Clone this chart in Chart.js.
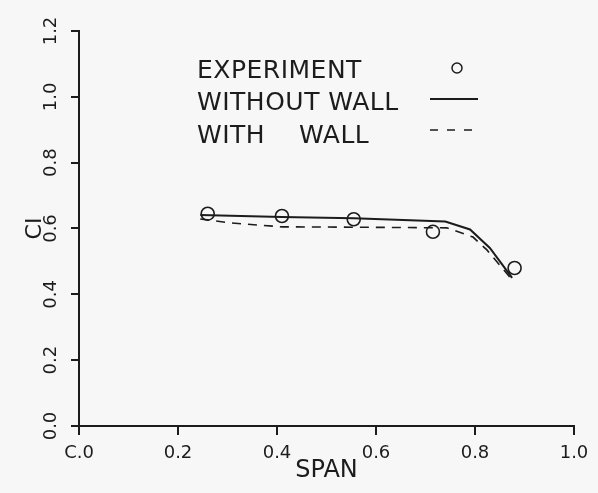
<!DOCTYPE html>
<html>
<head>
<meta charset="utf-8">
<script src="https://cdn.jsdelivr.net/npm/chart.js@4/dist/chart.umd.min.js"></script>
<style>
    html, body { margin: 0; padding: 0; background: #f7f7f7; }
    #wrap { width: 598px; height: 493px; position: relative; }
</style>
</head>
<body>
<div id="wrap"><canvas id="clChart"></canvas></div>
<script>
// tick labels as printed on the plot
const spanTicks = ['C.0', '0.2', '0.4', '0.6', '0.8', '1.0'];
const clTicks = ['0.0', '0.2', '0.4', '0.6', '0.8', '1.0', '1.2'];

// experiment (circles)
const expSpan = [0.26, 0.41, 0.555, 0.715, 0.88];
const expCl = [0.645, 0.638, 0.628, 0.59, 0.48];

// computation without wall (solid)
const noWallSpan = [0.245, 0.41, 0.555, 0.74, 0.79, 0.83, 0.875];
const noWallCl = [0.641, 0.635, 0.631, 0.621, 0.597, 0.541, 0.45];

// computation with wall (dashed)
const wallSpan = [0.245, 0.305, 0.41, 0.555, 0.743, 0.796, 0.824, 0.875];
const wallCl = [0.629, 0.617, 0.605, 0.604, 0.602, 0.574, 0.535, 0.444];

const legendRows = ['EXPERIMENT', 'WITHOUT WALL', 'WITH    WALL'];

const INK = '#1c1c1c';
const X_TICK_LEN = 9;
const Y_TICK_LEN = 8;
const pts = (xs, ys) => xs.map((x, i) => ({ x: x, y: ys[i] }));

// paper colour behind everything
const paperPlugin = {
    id: 'paper',
    beforeDraw(chart) {
        const ctx = chart.ctx;
        ctx.save();
        ctx.fillStyle = '#f7f7f7';
        ctx.fillRect(0, 0, chart.width, chart.height);
        ctx.restore();
    }
};

// outward tick marks, placed by the scales
const tickMarkPlugin = {
    id: 'tickMarks',
    afterDraw(chart) {
        const { ctx, scales: { x, y } } = chart;
        ctx.save();
        ctx.strokeStyle = INK;
        ctx.lineWidth = 2;
        ctx.beginPath();
        x.ticks.forEach(t => {
            const px = Math.round(x.getPixelForValue(t.value));
            ctx.moveTo(px, x.top);
            ctx.lineTo(px, x.top + X_TICK_LEN);
        });
        y.ticks.forEach(t => {
            const py = Math.round(y.getPixelForValue(t.value));
            ctx.moveTo(y.right, py);
            ctx.lineTo(y.right - Y_TICK_LEN, py);
        });
        ctx.stroke();
        ctx.restore();
    }
};

// the hand-laid legend: label on the left, symbol on the right
const keyPlugin = {
    id: 'key',
    afterDraw(chart) {
        const ctx = chart.ctx;
        ctx.save();
        ctx.fillStyle = INK;
        ctx.strokeStyle = INK;
        ctx.font = '25px "DejaVu Sans"';
        ctx.letterSpacing = '0.5px';
        ctx.textBaseline = 'alphabetic';
        const baselines = [78, 110, 143];
        legendRows.forEach((t, i) => ctx.fillText(t, 197, baselines[i]));

        // circle
        ctx.lineWidth = 1.5;
        ctx.beginPath();
        ctx.arc(457, 68, 5, 0, Math.PI * 2);
        ctx.stroke();

        // solid
        ctx.lineWidth = 2;
        ctx.beginPath();
        ctx.moveTo(430, 99);
        ctx.lineTo(478, 99);
        ctx.stroke();

        // dashed
        ctx.lineWidth = 1.6;
        ctx.setLineDash([8, 9]);
        ctx.beginPath();
        ctx.moveTo(430, 130);
        ctx.lineTo(473, 130);
        ctx.stroke();
        ctx.restore();
    }
};

new Chart(document.getElementById('clChart'), {
    type: 'scatter',
    data: {
        datasets: [
            {
                label: 'EXPERIMENT',
                data: pts(expSpan, expCl),
                showLine: false,
                pointStyle: 'circle',
                pointRadius: 6.5,
                borderColor: INK,
                borderWidth: 1.6,
                backgroundColor: 'rgba(0,0,0,0)'
            },
            {
                label: 'WITHOUT WALL',
                data: pts(noWallSpan, noWallCl),
                showLine: true,
                pointRadius: 0,
                borderColor: INK,
                borderWidth: 2,
                tension: 0
            },
            {
                label: 'WITH WALL',
                data: pts(wallSpan, wallCl),
                showLine: true,
                pointRadius: 0,
                borderColor: INK,
                borderWidth: 1.6,
                borderDash: [9, 7],
                tension: 0
            }
        ]
    },
    options: {
        responsive: true,
        maintainAspectRatio: false,
        animation: false,
        layout: { padding: { top: 31, right: 24, left: 0, bottom: 0 } },
        plugins: {
            legend: { display: false },
            tooltip: { enabled: false }
        },
        scales: {
            x: {
                type: 'linear',
                min: 0,
                max: 1,
                afterFit: s => { s.height = 67; },
                afterBuildTicks: s => { s.ticks = spanTicks.map((t, i) => ({ value: i * 0.2 })); },
                border: { display: true, color: INK, width: 2 },
                grid: { display: false, tickLength: 8 },
                ticks: {
                    padding: 9,
                    color: INK,
                    font: { family: 'DejaVu Sans', size: 18 },
                    maxRotation: 0,
                    autoSkip: false,
                    callback: (v, i) => spanTicks[i]
                },
                title: {
                    display: true,
                    text: 'SPAN',
                    color: INK,
                    font: { family: 'DejaVu Sans', size: 24 },
                    padding: { top: 0, bottom: 8 }
                }
            },
            y: {
                type: 'linear',
                min: 0,
                max: 1.2,
                afterFit: s => { s.width = 79; },
                afterBuildTicks: s => { s.ticks = clTicks.map((t, i) => ({ value: i * 0.2 })); },
                border: { display: true, color: INK, width: 2 },
                grid: { display: false, tickLength: 8 },
                ticks: {
                    padding: 5,
                    color: INK,
                    font: { family: 'DejaVu Sans', size: 18 },
                    minRotation: 90,
                    maxRotation: 90,
                    crossAlign: 'center',
                    autoSkip: false,
                    callback: (v, i) => clTicks[i]
                },
                title: {
                    display: true,
                    text: 'CI',
                    color: INK,
                    font: { family: 'DejaVu Sans', size: 22 },
                    padding: { top: 22, bottom: 0 }
                }
            }
        }
    },
    plugins: [paperPlugin, tickMarkPlugin, keyPlugin]
});
</script>
</body>
</html>
